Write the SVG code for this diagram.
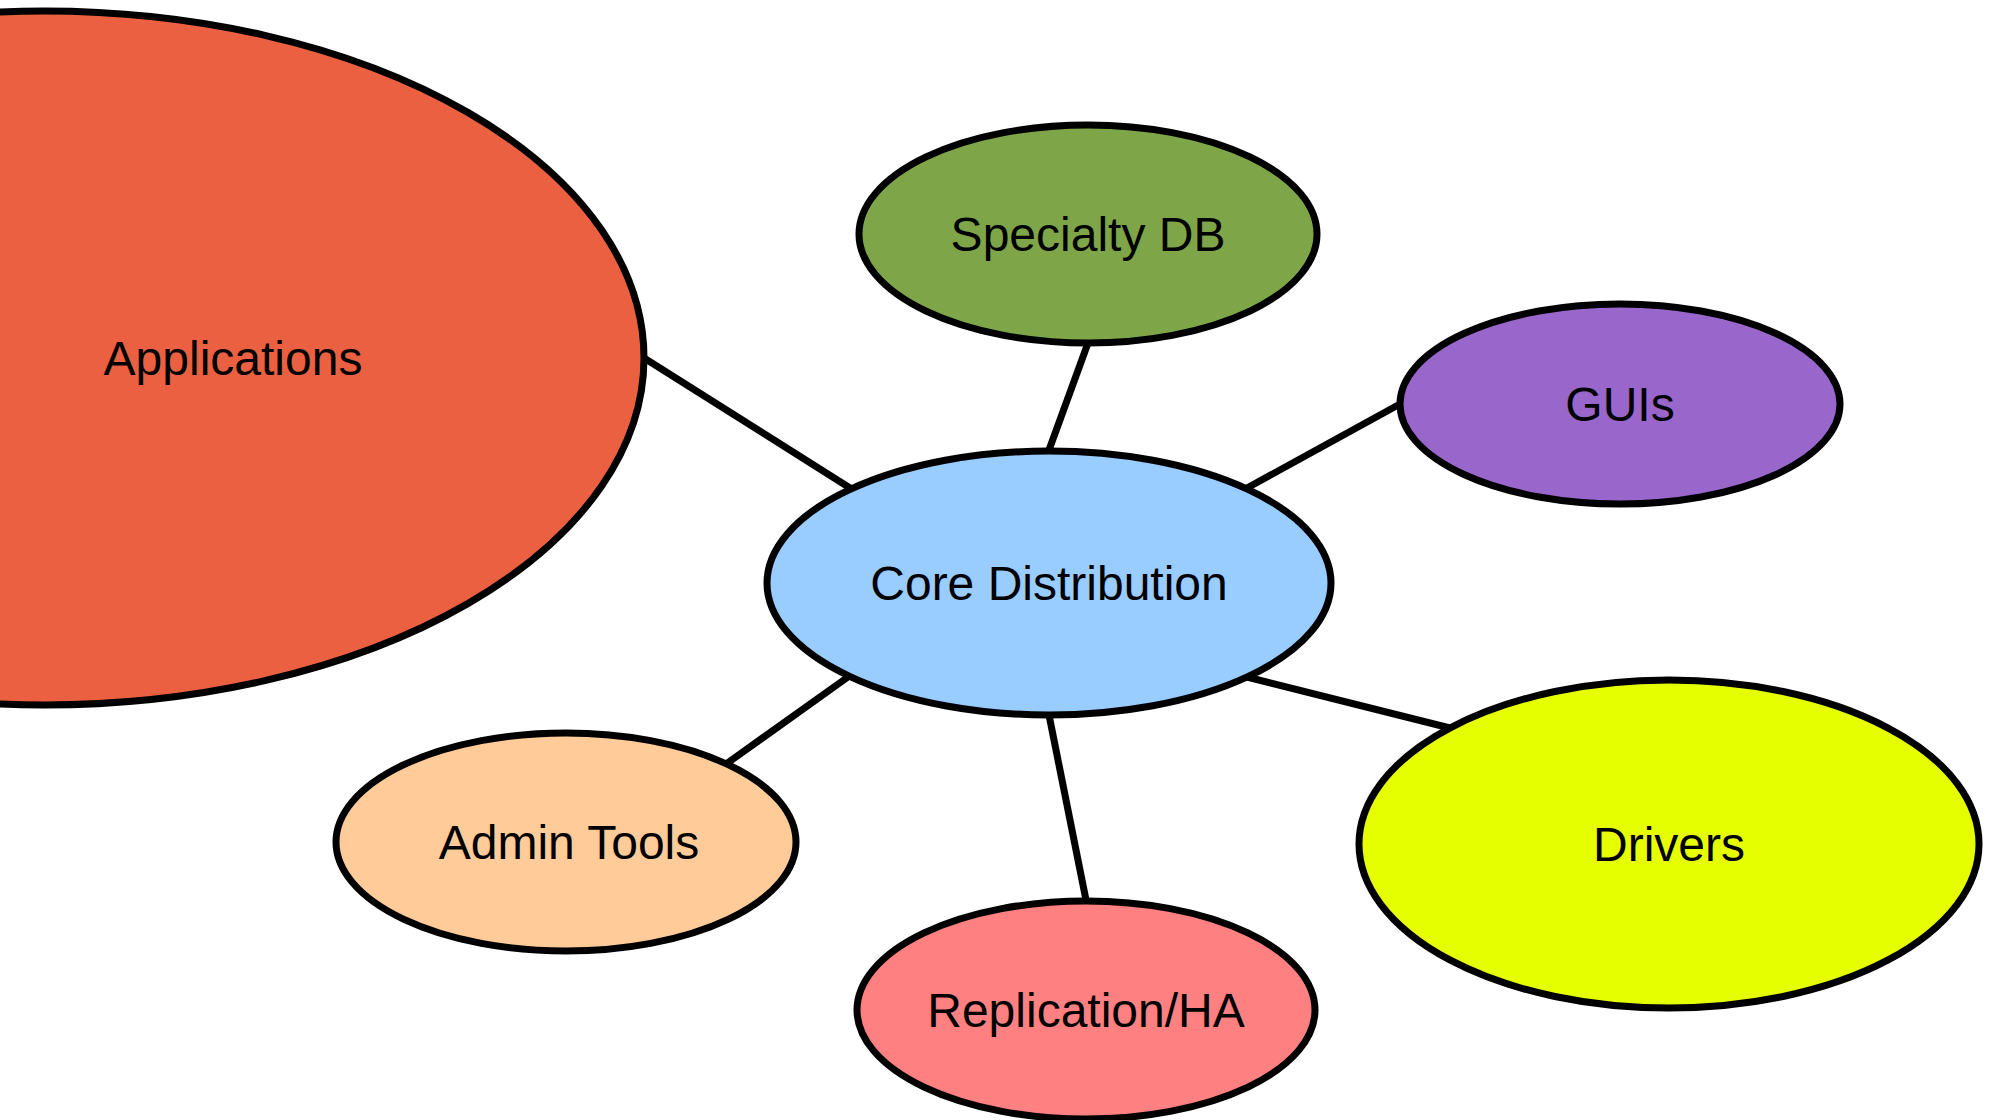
<svg xmlns="http://www.w3.org/2000/svg" width="1991" height="1120" viewBox="0 0 1991 1120">
<style>
.n{stroke:#000;stroke-width:7}
.t{font-family:"Liberation Sans",Arial,sans-serif;font-size:48px;fill:#000;text-anchor:middle;dominant-baseline:central}
.e{stroke:#000;stroke-width:7;fill:none}
</style>
<rect width="1991" height="1120" fill="#fff"/>
<g id="connectors">
<line class="e" x1="644" y1="358" x2="850" y2="488"/>
<line class="e" x1="1088" y1="343" x2="1049" y2="450"/>
<line class="e" x1="1400" y1="404" x2="1247" y2="488"/>
<line class="e" x1="848" y1="677" x2="726" y2="764"/>
<line class="e" x1="1049" y1="715" x2="1086" y2="900"/>
<line class="e" x1="1247" y1="677" x2="1450" y2="728"/>
</g>
<g id="applications"><ellipse class="n" cx="44" cy="358" rx="600" ry="347" fill="#EB6040"/><text class="t" x="233" y="358">Applications</text></g>
<g id="specialty-db"><ellipse class="n" cx="1088" cy="234" rx="229" ry="109" fill="#7EA649"/><text class="t" x="1088" y="234">Specialty DB</text></g>
<g id="guis"><ellipse class="n" cx="1620" cy="404" rx="220" ry="100" fill="#9966CC"/><text class="t" x="1620" y="404">GUIs</text></g>
<g id="core-distribution"><ellipse class="n" cx="1049" cy="583" rx="282" ry="132" fill="#99CCFF"/><text class="t" x="1049" y="583">Core Distribution</text></g>
<g id="admin-tools"><ellipse class="n" cx="566" cy="842" rx="230" ry="109" fill="#FFCC99"/><text class="t" x="569" y="842">Admin Tools</text></g>
<g id="replication-ha"><ellipse class="n" cx="1086" cy="1010" rx="229" ry="109" fill="#FF8080"/><text class="t" x="1086" y="1010">Replication/HA</text></g>
<g id="drivers"><ellipse class="n" cx="1669" cy="844" rx="310" ry="164" fill="#E5FF00"/><text class="t" x="1669" y="844">Drivers</text></g>
</svg>
